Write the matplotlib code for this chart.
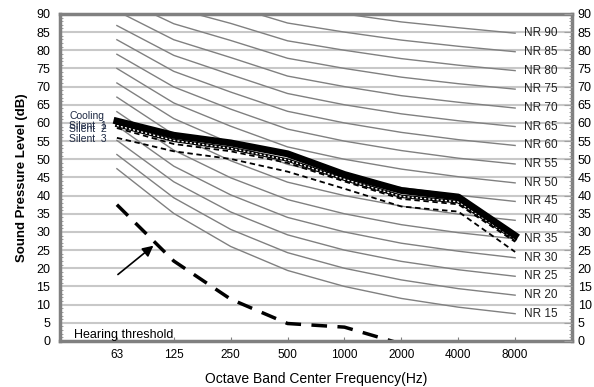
import numpy as np
import matplotlib.pyplot as plt
from matplotlib.ticker import MultipleLocator

plt.rcParams['font.family'] = ['Liberation Sans', 'DejaVu Sans']

freqs = ['63', '125', '250', '500', '1000', '2000', '4000', '8000']

# NR curves (dB at 63..8000 Hz)
nr_levels = [15, 20, 25, 30, 35, 40, 45, 50, 55, 60, 65, 70, 75, 80, 85, 90]
nr_values = [
    [47.4, 35.1, 26.0, 19.4, 15, 11.7, 9.3, 7.5],
    [51.3, 39.4, 30.7, 24.3, 20, 16.8, 14.4, 12.6],
    [55.2, 43.8, 35.5, 29.2, 25, 21.9, 19.6, 17.8],
    [59.2, 48.1, 40.2, 34.0, 30, 26.9, 24.7, 22.9],
    [63.1, 52.5, 44.9, 38.9, 35, 32.0, 29.8, 28.1],
    [67.1, 56.8, 49.6, 43.7, 40, 37.1, 34.9, 33.2],
    [71.0, 61.2, 54.4, 48.6, 45, 42.2, 40.1, 38.4],
    [75.0, 65.5, 59.1, 53.4, 50, 47.3, 45.2, 43.5],
    [78.9, 69.9, 63.8, 58.3, 55, 52.4, 50.3, 48.7],
    [82.9, 74.2, 68.5, 63.2, 60, 57.4, 55.4, 53.8],
    [86.8, 78.6, 73.3, 68.1, 65, 62.5, 60.6, 59.0],
    [90.8, 82.9, 78.0, 72.9, 70, 67.5, 65.7, 64.1],
    [94.7, 87.3, 82.7, 77.8, 75, 72.6, 70.8, 69.3],
    [98.7, 91.6, 87.4, 82.6, 80, 77.7, 75.9, 74.4],
    [102.6, 96.0, 92.2, 87.5, 85, 82.8, 81.1, 79.6],
    [106.6, 100.3, 96.9, 92.3, 90, 87.8, 86.2, 84.7],
]

cooling = [60.5, 56.6, 54.5, 51.5, 45.8, 41.4, 39.6, 29.0]
silent1 = [59.3, 55.2, 53.0, 49.8, 44.5, 39.8, 38.3, 28.0]
silent2 = [58.6, 54.2, 52.2, 49.0, 43.9, 39.1, 37.6, 27.3]
silent3 = [55.9, 52.2, 50.1, 46.6, 41.9, 37.0, 35.6, 24.5]

threshold = [37.5, 22.0, 11.5, 4.8, 3.8, -0.8]

x = np.arange(len(freqs))

fig = plt.figure(figsize=(5.94, 3.87), dpi=100)
ax = fig.add_axes([0.101, 0.119, 0.862, 0.845])

for yv in range(5, 90, 5):
    ax.axhline(yv, color='#c8c8c8', lw=1.5, zorder=0)

for lvl, vals in zip(nr_levels, nr_values):
    ax.plot(x, vals, color='#808080', lw=1.0, zorder=1)
    ax.text(7.15, vals[-1], 'NR %d' % lvl, fontsize=8.5, va='center', ha='left',
            color='#222222', zorder=3)

ax.plot(x[:len(threshold)], threshold, color='black', lw=2.5, ls=(0, (4.5, 3)), zorder=2)

ax.plot(x, cooling, color='black', lw=5, zorder=5)
ax.plot(x, silent1, color='black', lw=2.5, zorder=4)
ax.plot(x, silent1, color='white', lw=1.0, ls=(0, (1.5, 1.5)), zorder=4)
ax.plot(x, silent2, color='black', lw=1.3, ls=(0, (3, 2)), zorder=4)
ax.plot(x, silent3, color='black', lw=1.3, ls=(0, (3, 2)), zorder=4)

lab_col = '#1f2a44'
ax.text(-0.84, cooling[0] + 1.3, 'Cooling', fontsize=7.5, color=lab_col, va='center')
ax.text(-0.84, silent1[0] - 0.1, 'Silent  1', fontsize=7.5, color=lab_col, va='center')
ax.text(-0.84, silent2[0] - 0.3, 'Silent  2', fontsize=7.5, color=lab_col, va='center')
ax.text(-0.84, silent3[0] - 0.4, 'Silent  3', fontsize=7.5, color=lab_col, va='center')

ax.text(-0.75, 1.6, 'Hearing threshold', fontsize=9, color='black', va='center')
ax.annotate('', xy=(0.68, 26.7), xytext=(-0.02, 17.8),
            arrowprops=dict(arrowstyle='-|>', color='black', lw=1.2,
                            mutation_scale=16))

ax.set_xlim(-1, 8)
ax.set_ylim(0, 90)
ax.set_xticks(x)
ax.set_xticklabels(freqs, fontsize=8.5)
ax.tick_params(axis='x', direction='in', length=3, color='#808080', pad=6)
ax.yaxis.set_major_locator(MultipleLocator(5))
ax.yaxis.set_minor_locator(MultipleLocator(1))
ax.tick_params(axis='y', which='major', labelsize=9, direction='in', length=0, pad=7)
ax.tick_params(axis='y', which='minor', direction='in', length=2, color='#909090')

for sp in ax.spines.values():
    sp.set_color('#808080')
    sp.set_linewidth(2.5)

ax2 = ax.twinx()
ax2.set_ylim(0, 90)
ax2.yaxis.set_major_locator(MultipleLocator(5))
ax2.yaxis.set_minor_locator(MultipleLocator(1))
ax2.tick_params(axis='y', which='major', labelsize=9, direction='in', length=6,
                color='#a0a0a0', pad=4)
ax2.tick_params(axis='y', which='minor', direction='in', length=2, color='#909090')
for sp in ax2.spines.values():
    sp.set_visible(False)

ax.set_ylabel('Sound Pressure Level (dB)', fontsize=9.5, fontweight='bold', labelpad=6)
ax.set_xlabel('Octave Band Center Frequency(Hz)', fontsize=10, labelpad=8)

fig.savefig('out.png', dpi=100)
